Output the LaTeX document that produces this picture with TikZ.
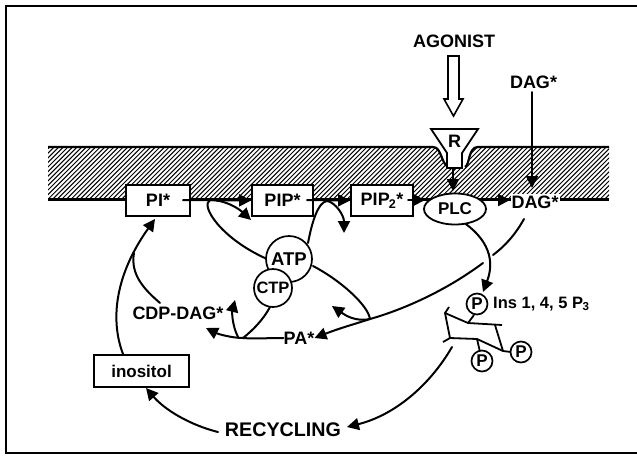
\documentclass[tikz,border=0pt]{standalone}
\usepackage{fontspec}
\setmainfont[UprightFont=* Bold,BoldFont=* Bold]{Liberation Sans}
\usetikzlibrary{arrows.meta,shapes.geometric}
\tikzset{
  x=1pt,y=-1pt,
  lw/.style={line width=2pt,line cap=round,line join=round},
  arr/.style={lw,-{Triangle[length=12pt,width=12pt]}},
  plain/.style={lw},
  txt/.style={inner sep=0pt,font=\fontsize{18}{18}\selectfont},
  boxn/.style={draw,fill=white,line width=1.8pt,inner sep=0pt,font=\fontsize{18}{18}\selectfont},
  circn/.style={draw,fill=white,circle,line width=1.7pt,inner sep=0pt,font=\fontsize{18.5}{18}\selectfont},
  pcirc/.style={circn,minimum size=21pt,font=\fontsize{17}{17}\selectfont},
}
\begin{document}
\begin{tikzpicture}
\useasboundingbox (0,0) rectangle (637,456);
\fill[white] (0,0) rectangle (637,456);
% frame
\draw[line width=2.2pt] (637,6) -- (6,6) -- (6,453) -- (637,453);
% membrane hatch
\begin{scope}
\clip (48,147) -- (433,147) .. controls (442,147) and (441,165) .. (449,167) -- (465,167) .. controls (470,165) and (468,147) .. (478,147) -- (609,147) -- (609,199) -- (48,199) -- cycle;
\foreach \i in {-55,-50.4,...,565}{
  \draw[line width=1pt] (48+\i,199) -- (100+\i,147);
}
\end{scope}
\draw[line width=2.2pt] (48,147) -- (433,147) .. controls (442,147) and (441,165) .. (449,167);
\draw[line width=2.2pt] (465,167) .. controls (470,165) and (468,147) .. (478,147) -- (609,147);
\draw[line width=2.2pt] (48,199.5) -- (609,199.5);
% nodes
\node[boxn,minimum width=64pt,minimum height=31pt] (pi) at (158,200.5) {PI*};
\node[boxn,minimum width=61pt,minimum height=31pt] (pip) at (282.5,200.5) {PIP*};
\node[boxn,minimum width=62pt,minimum height=31pt] (pipb) at (382,200.5) {PIP\textsubscript{\kern-1pt 2}*};
\node[fill=white,txt,inner xsep=1pt,inner ysep=2pt] (dagb) at (535,202) {DAG*};
\node[txt] (agonist) at (454,41) {AGONIST};
\node[txt] (dagt) at (533.5,82) {DAG*};
\node[txt] (cdp) at (178,313) {CDP-DAG*};
\node[txt] (pa) at (299,338) {PA*};
\node[boxn,minimum width=95pt,minimum height=32pt,font=\fontsize{17}{17}\selectfont] (ino) at (141.5,371) {inositol};
\node[txt,font=\fontsize{19.7}{20}\selectfont] (rec) at (283,430) {RECYCLING};
\node[txt,anchor=west,font=\fontsize{16.5}{17}\selectfont] (ins) at (493,304) {Ins 1, 4, 5 P\textsubscript{\kern-0.5pt 3}};
% junctions and free ends
\coordinate (j1) at (210,200);
\coordinate (a1) at (183,200);
\coordinate (t1) at (251,220);
\coordinate (j2) at (327,201);
\coordinate (a2) at (307,200);
\coordinate (t2) at (344,233);
\coordinate (j3) at (370,319);
\coordinate (t3) at (332,306);
\coordinate (j4) at (243,338);
\coordinate (t4) at (235,300);
\coordinate (t5) at (206,328);
\coordinate (j5) at (134,253);
\coordinate (t6) at (155,219);
\coordinate (g1) at (493,255);
\coordinate (g2) at (483,263);
\coordinate (d1) at (524,219);
\coordinate (t7) at (483,292);
\coordinate (p1) at (408,200);
\coordinate (t8) at (425,200);
\coordinate (s1) at (485,200);
\coordinate (t9) at (510,200);
\coordinate (e1) at (532,92);
\coordinate (t10) at (532,188);
\coordinate (e2) at (453,168);
\coordinate (t11) at (453,191);
\coordinate (g3) at (452,347);
\coordinate (t12) at (347,427);
\coordinate (g4) at (218,432);
\coordinate (t13) at (146,388);
\coordinate (c1) at (160,303);
\coordinate (i1) at (123,354);
% connectors
\draw[arr] (a1) -- (pip.west);
\draw[arr] (a2) -- (pipb.west);
\draw[arr] (j1) .. controls (225,200) and (238,208) .. (t1);
\draw[plain] (j1) .. controls (200,205) and (220,238) .. (267,259);
\draw[plain] (308,243) .. controls (312,222) and (318,202) .. (j2);
\draw[arr] (j2) .. controls (335,202) and (344,215) .. (t2);
\draw[plain] (313,266) .. controls (340,280) and (368,305) .. (j3);
\draw[arr] (j3) .. controls (355,322) and (345,315) .. (t3);
\draw[plain] (d1) .. controls (515,235) and (505,246) .. (g1);
\draw[arr] (g2) .. controls (440,295) and (395,312) .. (j3) .. controls (355,324) and (340,328) .. (pa.east);
\draw[plain] (pa.west) .. controls (265,338) and (255,339) .. (j4);
\draw[arr] (j4) .. controls (232,338) and (218,334) .. (t5);
\draw[plain] (270,307) .. controls (263,320) and (253,330) .. (j4);
\draw[arr] (238,337) .. controls (232,325) and (232,312) .. (t4);
\draw[plain] (c1) .. controls (145,290) and (130,275) .. (j5);
\draw[arr] (i1) .. controls (110,320) and (115,275) .. (t6);
\draw[arr] (p1) -- (t8);
\draw[arr] (s1) -- (t9);
\draw[arr] (e1) -- (t10);
\draw[arr] (463,222) .. controls (482,235) and (497,255) .. (t7);
\draw[arr] (g3) .. controls (430,385) and (395,415) .. (t12);
\draw[arr] (g4) .. controls (190,425) and (165,410) .. (t13);
% hollow arrow
\draw[line width=1.6pt,fill=white,line join=miter] (448,56) -- (459,56) -- (459,99) -- (463,99) -- (453.5,116) -- (444,99) -- (448,99) -- cycle;
% receptor
\draw[line width=1.8pt,fill=white,line join=miter] (431,129) -- (478,129) -- (462,153) -- (462,168) -- (447,168) -- (447,153) -- cycle;
\node[txt] (r) at (454.5,141) {R};
\draw[arr] (e2) -- (t11);
% PLC
\node[draw,fill=white,ellipse,line width=1.8pt,minimum width=62pt,minimum height=31pt,inner sep=0pt,font=\fontsize{17}{17}\selectfont] (plc) at (455,209) {PLC};
% ATP CTP
\node[circn,minimum size=46pt] (atp) at (289,259) {ATP};
\node[circn,minimum size=38pt,font=\fontsize{16.5}{17}\selectfont] (ctp) at (273,288) {CTP};
% inositol ring
\draw[line width=1.8pt,line join=round] (449,307) -- (445,313) -- (468,323) -- (502,325);
\draw[line width=1.8pt] (495,325) -- (503,351);
\draw[line width=1.8pt,line join=round] (445,313) -- (450,338) -- (477,339) -- (503,351) -- (511,352);
\draw[line width=1.8pt] (450,338) -- (443,342);
\draw[line width=1.8pt] (477,339) -- (480,352);
\draw[line width=1.8pt] (468,323) -- (474,315);
\node[pcirc] (p1c) at (477,304) {P};
\node[pcirc] (p2c) at (521,352) {P};
\node[pcirc] (p3c) at (482,361) {P};
\end{tikzpicture}
\end{document}
